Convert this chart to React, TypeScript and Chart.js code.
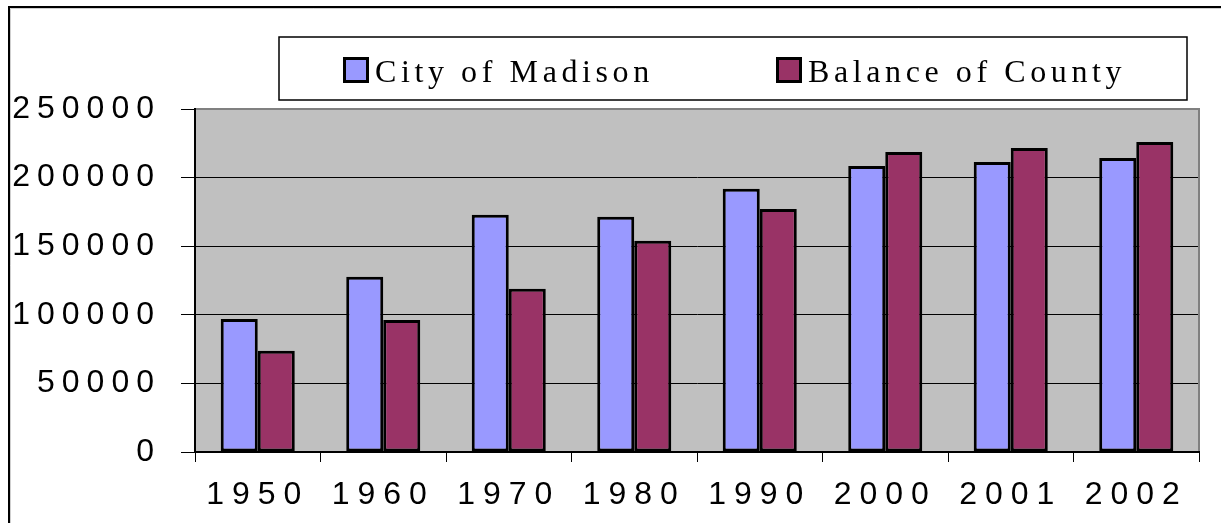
import React, { useEffect, useRef } from 'react';
import { Chart, registerables } from 'chart.js';

Chart.register(...registerables);

const years = ['1950', '1960', '1970', '1980', '1990', '2000', '2001', '2002'];
const cityOfMadison = [97000, 127700, 172900, 171400, 191800, 208500, 211400, 214300];
const balanceOfCounty = [73800, 96300, 118900, 153900, 177200, 218700, 221600, 226000];
const seriesNames = ['City of Madison', 'Balance of County'];
const seriesColors = ['#9999ff', '#993366'];
const yMin = 0;
const yMax = 250000;
const yStep = 50000;

const Y_SPACING = '7px';
const X_SPACING = '8px';

const framePlugin = {
  id: 'frameAndLegend',
  beforeDraw(chart: any) {
    const { ctx, chartArea: a } = chart;
    ctx.save();
    ctx.fillStyle = '#ffffff';
    ctx.fillRect(0, 0, chart.width, chart.height);
    // outer frame (top and left edges visible)
    ctx.strokeStyle = '#000000';
    ctx.lineWidth = 2;
    ctx.beginPath();
    ctx.moveTo(9, chart.height);
    ctx.lineTo(9, 7);
    ctx.lineTo(chart.width, 7);
    ctx.stroke();
    ctx.strokeStyle = '#cfcfcf';
    ctx.lineWidth = 1;
    ctx.beginPath();
    ctx.moveTo(10.5, chart.height);
    ctx.lineTo(10.5, 8.5);
    ctx.lineTo(chart.width, 8.5);
    ctx.stroke();
    // plot area background
    ctx.fillStyle = '#c0c0c0';
    ctx.fillRect(a.left, a.top, a.right - a.left, a.bottom - a.top);
    ctx.restore();
    ctx.letterSpacing = Y_SPACING;
  },
  afterDatasetsDraw(chart: any) {
    chart.ctx.letterSpacing = X_SPACING;
  },
  afterDraw(chart: any) {
    const { ctx, chartArea: a } = chart;
    ctx.save();
    ctx.letterSpacing = '0px';
    // plot area top/right edge
    ctx.strokeStyle = '#808080';
    ctx.lineWidth = 2;
    ctx.beginPath();
    ctx.moveTo(a.left + 1, a.top);
    ctx.lineTo(a.right, a.top);
    ctx.lineTo(a.right, a.bottom - 1);
    ctx.stroke();

    // legend
    const bx = a.left + 84;
    const by = a.top - 72;
    const bw = a.right - 12 - bx;
    const bh = 63;
    ctx.fillStyle = '#ffffff';
    ctx.fillRect(bx, by, bw, bh);
    ctx.strokeStyle = '#000000';
    ctx.lineWidth = 1.5;
    ctx.strokeRect(bx, by, bw, bh);
    ctx.font = '32px "Liberation Serif", "Times New Roman", serif';
    ctx.letterSpacing = '4.6px';
    ctx.textBaseline = 'alphabetic';
    ctx.textAlign = 'left';
    const itemX = [bx + 64, bx + 497];
    const baseY = by + 45;
    chart.data.datasets.forEach((ds: any, i: number) => {
      const x = itemX[i];
      const sy = baseY - 25;
      ctx.fillStyle = ds.backgroundColor;
      ctx.fillRect(x, sy, 26, 26);
      ctx.strokeStyle = '#000000';
      ctx.lineWidth = 3;
      ctx.strokeRect(x + 1.5, sy + 1.5, 23, 23);
      ctx.fillStyle = '#000000';
      ctx.fillText(ds.label, x + 32, baseY);
    });
    ctx.restore();
  },
};

export default function App() {
  const ref = useRef<HTMLCanvasElement | null>(null);

  useEffect(() => {
    if (!ref.current) return;
    const chart = new Chart(ref.current, {
      type: 'bar',
      data: {
        labels: years,
        datasets: [
          {
            label: seriesNames[0],
            data: cityOfMadison,
            backgroundColor: seriesColors[0],
            borderColor: '#000000',
            borderWidth: 3,
            borderSkipped: false,
            categoryPercentage: 0.59,
            barPercentage: 1,
          },
          {
            label: seriesNames[1],
            data: balanceOfCounty,
            backgroundColor: seriesColors[1],
            borderColor: '#000000',
            borderWidth: 3,
            borderSkipped: false,
            categoryPercentage: 0.59,
            barPercentage: 1,
          },
        ],
      },
      options: {
        responsive: false,
        animation: false,
        layout: { padding: { top: 109, right: 22, left: 0, bottom: 0 } },
        plugins: {
          legend: { display: false },
          tooltip: { enabled: false },
        },
        scales: {
          x: {
            grid: {
              display: true,
              drawOnChartArea: false,
              drawTicks: true,
              tickLength: 10,
              color: '#000000',
              offset: true,
            },
            border: { display: true, color: '#000000', width: 2 },
            ticks: {
              z: 1,
              color: '#000000',
              font: { family: '"Liberation Sans", Arial, sans-serif', size: 32 },
              padding: 14,
              maxRotation: 0,
              autoSkip: false,
            },
            afterFit: (scale: any) => {
              scale.height = 71;
            },
          },
          y: {
            min: yMin,
            max: yMax,
            grid: {
              color: '#000000',
              lineWidth: 1,
              drawTicks: true,
              tickLength: 14,
              tickColor: '#000000',
            },
            border: { display: true, color: '#000000', width: 2 },
            ticks: {
              stepSize: yStep,
              color: '#000000',
              font: { family: '"Liberation Sans", Arial, sans-serif', size: 32 },
              padding: 20,
              callback: (v: any) => String(v),
            },
            afterFit: (scale: any) => {
              scale.width = 195;
            },
          },
        },
      },
      plugins: [framePlugin],
    });
    return () => chart.destroy();
  }, []);

  return (
    <div style={{ position: 'fixed', left: 0, top: 0, width: 1221, height: 523, overflow: 'hidden' }}>
      <canvas ref={ref} width={1221} height={523} style={{ display: 'block' }} />
    </div>
  );
}
